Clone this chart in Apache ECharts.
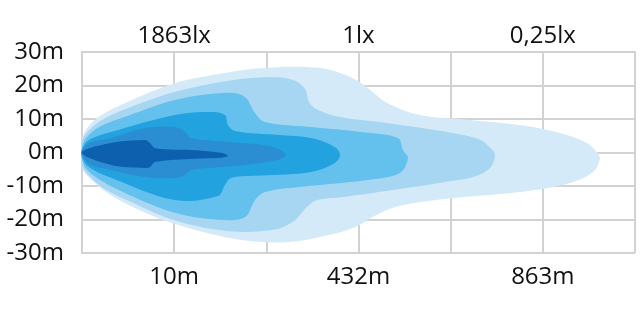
<!DOCTYPE html>
<html>
<head>
<meta charset="utf-8">
<script src="https://cdn.jsdelivr.net/npm/echarts@6/dist/echarts.min.js"></script>
<style>
html,body{margin:0;padding:0;background:#fff;}
#chart{width:640px;height:310px;}
</style>
</head>
<body>
<div id="chart"></div>
<script>
// Tick labels
const xTickPositions = [1, 3, 5];
const bottomLabels = ['10m', '432m', '863m'];
const topLabels = ['1863lx', '1lx', '0,25lx'];

// Isolux contours, [distance (grid units), lateral offset (m)], outermost first
const layer1 = [[0,0.5],[0.0,4.0],[0.06,7.5],[0.2,11.0],[0.467,14.8],[1.009,20.7],[1.551,23.7],[2.0,25.3],[2.582,25.2],[2.94,22.2],[3.125,18.7],[3.31,14.8],[3.667,11.2],[4.21,9.7],[4.752,8.2],[5.186,5.8],[5.479,2.8],[5.6,-0.5],[5.62,-2.0],
  [5.544,-5.8],[5.294,-9.1],[4.752,-11.8],[4.025,-13.6],[3.483,-15.7],[3.233,-18.1],[2.94,-22.5],[2.582,-25.2],[2.3,-26.6],[2.0,-26.8],[1.551,-25.3],[1.009,-21.3],[0.651,-17.5],[0.3,-12.5],[0.08,-7.5],[0.0,-4.6]];
const layer2 = [[0,0.5],[0.0,3.5],[0.08,6.8],[0.25,10.2],[0.55,13.8],[1.009,18.1],[1.551,21.3],[1.985,22.5],[2.3,21.6],[2.42,19.0],[2.47,14.8],[2.58,12.5],[2.8,10.6],[3.31,8.8],[4.025,5.8],[4.3,4.0],[4.427,1.5],[4.481,-0.7],
  [4.427,-4.6],[4.242,-7.3],[4.0,-8.5],[3.374,-11.2],[2.832,-13.3],[2.55,-14.2],[2.45,-16.0],[2.398,-17.5],[2.289,-20.7],[2.1,-23.0],[1.6,-23.5],[1.009,-20.3],[0.55,-15.0],[0.25,-11.0],[0.08,-7.0],[0,-4.0]];
const layer3 = [[0,1.5],[0.05,4.5],[0.2,7.8],[0.5,11.0],[1.009,15.7],[1.584,17.8],[1.768,16.6],[1.877,11.8],[1.985,9.1],[2.485,7.6],[3.027,6.1],[3.428,4.3],[3.483,0.7],[3.537,-1.6],
  [3.45,-6.1],[3.092,-8.2],[2.365,-10.3],[1.985,-11.8],[1.877,-14.2],[1.768,-19.3],[1.476,-20.1],[1.009,-18.0],[0.5,-12.5],[0.2,-8.3],[0.05,-5.0],[0,-2]];
const layer4 = [[0,1.0],[0.08,3.8],[0.315,6.1],[1.009,11.2],[1.4,12.1],[1.551,11.2],[1.584,8.2],[1.66,6.4],[2.127,5.2],[2.485,4.3],[2.745,1.6],[2.799,-0.7],
  [2.745,-3.1],[2.485,-5.8],[1.942,-6.9],[1.617,-7.6],[1.551,-9.7],[1.476,-13.0],[1.009,-14.2],[0.315,-7.5],[0.08,-4.5],[0,-1.5]];
const layer5 = [[0,0.5],[0.08,2.8],[0.315,4.3],[0.684,7.3],[1.009,7.6],[1.118,6.1],[1.183,4.3],[1.584,3.1],[1.985,2.2],[2.159,0.7],[2.213,-0.7],
  [2.127,-2.2],[1.768,-3.7],[1.183,-5.2],[1.118,-6.7],[1.009,-7.6],[0.684,-7.3],[0.315,-5.2],[0.08,-3.5],[0,-0.5]];
const layer6 = [[0,-0.1],[0.315,2.8],[0.684,3.7],[0.738,2.8],[0.792,1.3],[1.226,0.7],[1.508,-0.1],[1.584,-1.0],
  [1.508,-1.6],[1.226,-1.9],[0.792,-2.8],[0.738,-4.3],[0.684,-4.6],[0.315,-3.7]];

const layers = [layer1, layer2, layer3, layer4, layer5, layer6];
const layerColors = ['#d4eaf8', '#a7d6f2', '#64c0ed', '#22a2df', '#2b8dd2', '#0d60ad'];

const chart = echarts.init(document.getElementById('chart'), null, {renderer: 'canvas'});
const textStyle = {color: '#111111', fontSize: 24, fontFamily: 'Open Sans'};
const gridLine = {show: true, lineStyle: {color: '#d2d2d2', width: 2}};

function xLabel(arr) {
  return function (v) {
    const i = xTickPositions.indexOf(Math.round(v));
    return i >= 0 ? arr[i] : '';
  };
}

const series = layers.map(function (pts, li) {
  return {
    type: 'custom',
    silent: true,
    animation: false,
    encode: {x: 0, y: 1},
    data: pts,
    renderItem: function (params, api) {
      if (params.dataIndex !== 0) return null;
      const points = pts.map(function (p) { return api.coord(p); });
      return {
        type: 'polygon',
        shape: {points: points, smooth: 0.35},
        style: {fill: layerColors[li], stroke: null}
      };
    },
    z: 2 + li
  };
});

chart.setOption({
  animation: false,
  grid: {left: 82, right: 5, top: 52, bottom: 57},
  xAxis: [
    {
      type: 'value', min: 0, max: 6, interval: 1, position: 'bottom',
      axisLine: {show: true, lineStyle: {color: '#d2d2d2', width: 2}},
      axisTick: {show: false},
      splitLine: gridLine,
      axisLabel: Object.assign({margin: 12, formatter: xLabel(bottomLabels)}, textStyle)
    },
    {
      type: 'value', min: 0, max: 6, interval: 1, position: 'top',
      axisLine: {show: true, lineStyle: {color: '#d2d2d2', width: 2}},
      axisTick: {show: false},
      splitLine: {show: false},
      axisLabel: Object.assign({margin: 4, formatter: xLabel(topLabels)}, textStyle)
    }
  ],
  yAxis: {
    type: 'value', min: -30, max: 30, interval: 10,
    axisLine: {show: true, lineStyle: {color: '#d2d2d2', width: 2}},
    axisTick: {show: false},
    splitLine: gridLine,
    axisLabel: Object.assign({margin: 18, formatter: '{value}m'}, textStyle)
  },
  series: series
});
</script>
</body>
</html>
